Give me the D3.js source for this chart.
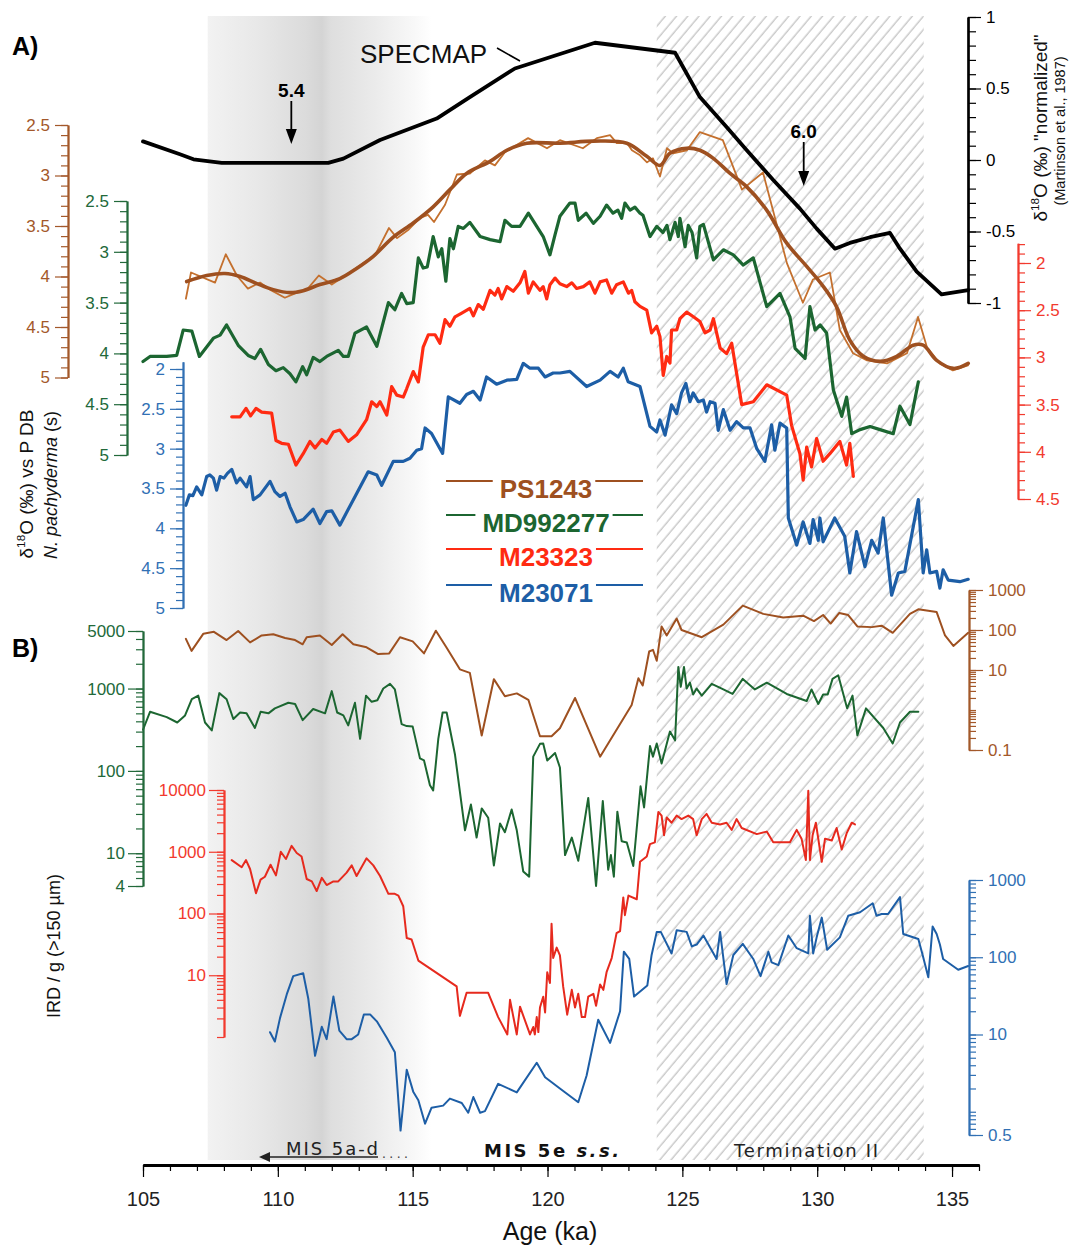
<!DOCTYPE html>
<html>
<head>
<meta charset="utf-8">
<script src="https://cdn.jsdelivr.net/npm/d3@7"></script>
<style>
  body { margin: 0; background: #fff; }
  svg { display: block; }
</style>
</head>
<body>
<script>
// ---------------------------------------------------------------------------
// Data: ages in ka, δ18O in ‰, IRD in grains per gram (>150 µm)
// ---------------------------------------------------------------------------
const specmapD18O = [[105.0,0.13],[106.37,0.04],[106.87,0.005],[107.92,-0.02],[111.87,-0.02],[112.43,0.01],[113.79,0.14],[115.89,0.29],[117.12,0.44],[118.79,0.64],[121.76,0.82],[124.73,0.75],[125.65,0.44],[126.64,0.23],[127.38,0.07],[128.37,-0.14],[129.36,-0.34],[129.98,-0.48],[130.66,-0.62],[131.21,-0.58],[131.96,-0.54],[132.7,-0.51],[133.07,-0.62],[133.69,-0.78],[134.61,-0.94],[135.6,-0.91]];

const ps1243Raw = [[106.59,4.22],[106.78,3.96],[107.67,4.06],[108.07,3.78],[108.48,3.99],[108.89,4.12],[109.34,4.06],[109.71,4.13],[110.26,4.21],[110.71,4.16],[111.08,4.13],[111.52,3.99],[112.0,4.08],[112.56,3.98],[113.04,3.89],[113.6,3.79],[114.12,3.52],[114.42,3.62],[114.83,3.54],[115.27,3.42],[115.57,3.39],[115.79,3.46],[116.2,3.29],[116.64,2.99],[117.12,2.98],[117.68,2.85],[118.05,2.90],[118.42,2.77],[119.28,2.63],[119.98,2.73],[120.46,2.65],[121.31,2.73],[121.83,2.63],[122.32,2.60],[122.57,2.68],[122.95,2.68],[123.13,2.75],[123.43,2.80],[123.69,2.87],[123.91,2.83],[124.17,3.01],[124.43,2.73],[124.65,2.78],[125.17,2.75],[125.65,2.57],[126.5,2.65],[127.21,3.14],[127.99,2.97],[128.88,3.87],[129.47,4.26],[129.84,4.03],[130.47,3.96],[130.84,4.53],[131.33,4.76],[131.85,4.83],[132.59,4.86],[133.33,4.76],[133.74,4.40],[134.07,4.70],[134.55,4.86],[135.03,4.93],[135.59,4.88]];

const ps1243Smooth = [[106.62,4.05],[107.36,3.99],[108.04,3.97],[108.6,4.0],[109.22,4.07],[109.83,4.13],[110.45,4.16],[110.94,4.14],[111.56,4.08],[112.3,4.02],[112.92,3.92],[113.54,3.80],[114.28,3.61],[115.02,3.47],[115.76,3.31],[116.38,3.14],[117.0,2.98],[117.87,2.86],[118.49,2.75],[119.23,2.68],[120.46,2.68],[121.70,2.66],[122.94,2.68],[123.68,2.81],[124.17,2.90],[124.54,2.78],[125.16,2.73],[125.65,2.75],[126.15,2.83],[126.77,2.98],[127.38,3.11],[128.12,3.34],[128.87,3.67],[129.61,3.90],[130.23,4.10],[130.72,4.30],[131.21,4.63],[131.71,4.79],[132.33,4.84],[132.95,4.79],[133.56,4.68],[133.93,4.68],[134.43,4.83],[135.05,4.91],[135.6,4.86]];

const md992277D18O = [[105.0,4.08],[105.26,4.03],[105.88,4.03],[106.25,4.02],[106.49,3.77],[106.81,3.78],[107.09,4.03],[107.61,3.85],[107.86,3.82],[108.10,3.72],[108.53,3.92],[108.9,4.02],[109.15,4.05],[109.36,3.96],[109.65,4.11],[109.93,4.17],[110.2,4.14],[110.45,4.2],[110.67,4.28],[110.92,4.13],[111.07,4.21],[111.31,4.04],[111.56,4.08],[111.81,4.03],[112.24,3.97],[112.43,4.03],[112.61,4.03],[112.86,3.80],[113.29,3.74],[113.67,3.93],[114.1,3.50],[114.34,3.57],[114.59,3.41],[114.78,3.51],[115.02,3.50],[115.21,3.06],[115.39,3.16],[115.54,3.15],[115.76,2.85],[115.95,3.05],[116.08,2.97],[116.23,3.29],[116.38,2.87],[116.51,2.97],[116.69,2.75],[116.88,2.77],[117.12,2.71],[117.5,2.85],[117.87,2.88],[118.24,2.90],[118.42,2.69],[118.67,2.75],[118.98,2.75],[119.29,2.62],[119.6,2.75],[119.84,2.85],[120.09,3.03],[120.28,2.83],[120.46,2.65],[120.83,2.52],[121.02,2.52],[121.14,2.69],[121.43,2.62],[121.7,2.72],[121.95,2.65],[122.19,2.54],[122.43,2.62],[122.61,2.59],[122.75,2.67],[122.87,2.52],[123.06,2.59],[123.24,2.56],[123.43,2.62],[123.54,2.64],[123.8,2.85],[124.05,2.75],[124.28,2.81],[124.43,2.74],[124.54,2.88],[124.73,2.71],[124.85,2.85],[124.91,2.67],[125.1,2.95],[125.22,2.74],[125.36,2.81],[125.53,3.06],[125.65,2.75],[125.78,2.73],[126.15,3.08],[126.52,2.98],[126.89,3.03],[127.26,3.13],[127.63,3.06],[128.13,3.54],[128.62,3.41],[128.99,3.64],[129.18,3.95],[129.55,4.05],[129.73,3.54],[129.92,3.77],[130.11,3.72],[130.35,3.80],[130.6,4.36],[130.91,4.62],[131.09,4.43],[131.28,4.79],[131.59,4.75],[131.96,4.72],[132.33,4.75],[132.82,4.79],[133.07,4.52],[133.44,4.70],[133.75,4.28]];

const m23323D18O = [[108.29,3.63],[108.6,3.63],[108.82,3.54],[108.99,3.62],[109.19,3.54],[109.4,3.58],[109.77,3.59],[109.93,3.88],[110.14,3.91],[110.39,3.92],[110.67,4.14],[110.94,4.02],[111.19,3.89],[111.38,3.96],[111.63,3.87],[111.81,3.91],[112.06,3.79],[112.3,3.77],[112.61,3.89],[112.92,3.82],[113.29,3.66],[113.48,3.47],[113.67,3.52],[113.79,3.47],[114.04,3.61],[114.22,3.31],[114.41,3.40],[114.65,3.42],[114.78,3.33],[115.02,3.15],[115.21,3.26],[115.39,2.89],[115.58,2.76],[115.83,2.76],[116.01,2.85],[116.2,2.60],[116.38,2.67],[116.57,2.57],[116.82,2.53],[117.12,2.48],[117.25,2.56],[117.43,2.44],[117.62,2.49],[117.87,2.29],[118.05,2.34],[118.17,2.27],[118.3,2.38],[118.49,2.25],[118.73,2.30],[118.98,2.21],[119.16,2.09],[119.29,2.32],[119.47,2.20],[119.72,2.29],[119.84,2.25],[119.97,2.38],[120.09,2.23],[120.28,2.16],[120.46,2.22],[120.71,2.25],[120.9,2.21],[121.08,2.27],[121.33,2.25],[121.57,2.20],[121.76,2.32],[121.95,2.20],[122.19,2.18],[122.38,2.32],[122.56,2.23],[122.81,2.20],[123.0,2.32],[123.12,2.29],[123.24,2.41],[123.43,2.46],[123.68,2.50],[123.86,2.74],[124.05,2.67],[124.17,2.78],[124.29,3.19],[124.42,2.99],[124.54,3.06],[124.6,2.71],[124.79,2.71],[124.91,2.59],[125.16,2.52],[125.41,2.57],[125.65,2.62],[125.84,2.74],[126.03,2.71],[126.15,2.59],[126.27,2.74],[126.4,2.90],[126.64,2.96],[126.83,2.85],[127.2,3.50],[127.63,3.47],[128.13,3.29],[128.87,3.40],[129.05,3.72],[129.36,4.02],[129.48,4.30],[129.61,3.95],[129.79,4.16],[129.98,3.86],[130.22,4.10],[130.47,4.02],[130.84,3.89],[131.09,4.14],[131.21,3.91],[131.34,4.26]];

const m23071D18O = [[106.59,3.71],[106.72,3.58],[106.85,3.59],[106.99,3.48],[107.18,3.58],[107.36,3.35],[107.48,3.33],[107.61,3.37],[107.73,3.52],[107.86,3.35],[108.0,3.37],[108.13,3.31],[108.29,3.26],[108.47,3.43],[108.6,3.37],[108.84,3.48],[108.97,3.35],[109.09,3.64],[109.34,3.58],[109.71,3.41],[109.89,3.54],[110.08,3.60],[110.27,3.56],[110.45,3.73],[110.7,3.92],[110.94,3.89],[111.31,3.76],[111.56,3.94],[111.81,3.79],[112.0,3.78],[112.3,3.96],[112.8,3.64],[113.35,3.29],[113.67,3.33],[113.85,3.46],[114.28,3.16],[114.65,3.16],[114.9,3.12],[115.15,3.02],[115.33,3.00],[115.46,2.74],[115.7,2.81],[116.11,3.06],[116.32,2.35],[116.75,2.43],[117.0,2.32],[117.25,2.28],[117.5,2.39],[117.74,2.10],[118.11,2.19],[118.49,2.14],[118.86,2.13],[119.1,1.93],[119.35,1.99],[119.66,1.99],[119.91,2.10],[120.21,2.05],[120.46,2.05],[120.83,2.03],[121.45,2.22],[121.95,2.14],[122.32,2.03],[122.62,2.10],[122.81,1.99],[122.99,2.16],[123.43,2.22],[123.8,2.72],[124.05,2.79],[124.17,2.64],[124.36,2.83],[124.6,2.45],[124.79,2.56],[124.97,2.30],[125.13,2.18],[125.28,2.41],[125.4,2.30],[125.59,2.41],[125.78,2.39],[125.9,2.54],[126.03,2.41],[126.21,2.43],[126.33,2.77],[126.52,2.51],[126.77,2.77],[127.01,2.66],[127.26,2.74],[127.51,2.74],[127.76,3.00],[128.06,3.16],[128.31,2.70],[128.43,3.02],[128.62,2.68],[128.87,2.74],[128.93,3.87],[129.24,4.21],[129.48,3.92],[129.73,4.19],[129.85,3.89],[130.04,4.15],[130.1,3.87],[130.22,4.17],[130.65,3.87],[131.02,4.10],[131.21,4.56],[131.46,4.04],[131.77,4.48],[132.02,4.15],[132.26,4.31],[132.45,3.87],[132.76,4.84],[133.01,4.56],[133.25,4.54],[133.75,3.64],[133.93,4.56],[134.06,4.27],[134.18,4.56],[134.43,4.54],[134.55,4.75],[134.67,4.52],[134.86,4.65],[135.29,4.67],[135.6,4.64]];

const ps1243IRD = [[106.59,60],[106.8,30],[107.24,81],[107.63,90],[108.1,56],[108.53,94],[108.97,49],[109.4,73],[109.83,78],[110.27,63],[110.64,56],[110.92,44],[111.07,66],[111.56,73],[112.0,42],[112.4,78],[112.8,44],[113.29,37],[113.72,25],[114.13,26],[114.53,66],[115.0,52],[115.42,26],[115.86,96],[116.26,36],[116.75,10.4],[117.12,8.5],[117.56,0.23],[118.01,5.9],[118.42,2.2],[118.86,2.6],[119.29,1.8],[119.72,0.22],[120.15,0.22],[120.46,0.35],[121.02,2.0],[121.95,0.068],[123.12,1.33],[123.37,6.2],[123.53,4.1],[123.77,29],[123.91,32],[124.05,17],[124.23,123],[124.42,73],[124.79,193],[124.97,100],[125.72,66],[126.52,136],[127.24,407],[128.0,253],[128.74,205],[129.48,228],[129.88,167],[130.22,237],[130.5,145],[130.82,267],[131.15,237],[131.49,123],[132.02,118],[132.39,128],[132.8,85],[133.44,253],[133.75,330],[134.43,281],[134.74,73],[135.05,40],[135.6,85]];

const md992277IRD = [[105.0,316],[105.26,522],[105.88,450],[106.27,387],[106.56,472],[106.81,742],[107.05,820],[107.3,387],[107.55,310],[107.83,880],[108.1,742],[108.35,427],[108.6,512],[108.84,500],[109.15,332],[109.36,522],[109.65,500],[109.89,575],[110.39,672],[110.64,650],[110.92,414],[111.31,565],[111.75,500],[112.0,930],[112.2,512],[112.43,472],[112.61,357],[112.86,672],[113.05,245],[113.27,820],[113.48,690],[113.69,720],[113.91,1000],[114.16,1140],[114.34,975],[114.59,370],[114.78,350],[115.0,345],[115.27,142],[115.42,134],[115.64,67],[115.76,58],[115.95,245],[116.11,512],[116.26,512],[116.57,157],[116.94,19],[117.16,39],[117.37,15.5],[117.56,35],[117.8,27],[118.01,7.1],[118.24,23],[118.42,18],[118.67,34],[118.86,19],[119.1,6.0],[119.32,5.2],[119.47,149],[119.72,213],[119.84,215],[119.99,134],[120.28,165],[120.46,110],[120.65,9.5],[120.9,15.5],[121.14,8.1],[121.51,47],[121.8,4.0],[122.05,43],[122.25,6.3],[122.35,9.5],[122.46,5.2],[122.59,32],[122.75,14],[122.94,13.5],[123.18,7.0],[123.45,65],[123.58,36],[123.8,200],[123.91,149],[124.05,215],[124.23,123],[124.54,300],[124.73,235],[124.85,1830],[124.94,1050],[125.06,1830],[125.16,1000],[125.28,1180],[125.4,845],[125.53,1000],[125.72,820],[126.09,1140],[126.52,975],[126.86,860],[127.24,1310],[127.69,975],[128.13,1180],[128.87,860],[129.61,705],[129.79,975],[130.04,650],[130.22,845],[130.39,845],[130.57,1310],[130.78,1450],[131.11,575],[131.31,820],[131.49,270],[131.81,575],[132.45,332],[132.8,215],[133.07,387],[133.44,522],[133.75,522]];

const m23323IRD = [[108.29,733],[108.66,562],[108.82,733],[108.97,526],[109.19,213],[109.36,353],[109.52,394],[109.73,617],[109.93,414],[110.11,1000],[110.3,762],[110.51,1245],[110.7,955],[110.88,837],[111.07,362],[111.26,331],[111.44,231],[111.63,378],[111.81,289],[112.06,331],[112.24,331],[112.55,460],[112.74,601],[112.92,405],[113.29,782],[113.54,601],[113.79,405],[114.1,208],[114.34,208],[114.47,195],[114.65,131],[114.78,40],[114.96,38],[115.21,17.3],[116.63,6.6],[116.75,2.2],[117.0,5.2],[117.8,5.2],[118.17,2.1],[118.51,1.1],[118.61,4.0],[118.86,1.1],[118.98,3.1],[119.35,1.1],[119.47,1.45],[119.53,1.1],[119.6,2.1],[119.66,1.2],[119.72,3.0],[119.84,4.5],[119.91,2.5],[119.99,11.2],[120.09,7.5],[120.15,68],[120.21,19],[120.34,28],[120.46,21],[120.58,6.6],[120.73,2.3],[120.9,5.8],[121.02,3.0],[121.14,5.0],[121.27,2.1],[121.39,2.1],[121.51,4.5],[121.7,5.0],[121.8,3.2],[121.95,7.1],[122.07,5.8],[122.19,11.2],[122.38,19],[122.56,48],[122.69,52],[122.81,182],[122.87,94],[123.0,195],[123.31,170],[123.43,687],[123.68,837],[123.8,1330],[123.98,1420],[124.11,4400],[124.23,3850],[124.32,1850],[124.42,3600],[124.6,2950],[124.79,3850],[124.97,3380],[125.22,3850],[125.4,3380],[125.53,1850],[125.72,3380],[125.9,4100],[126.09,2950],[126.4,2770],[126.64,2950],[126.83,2260],[127.01,3380],[127.2,2420],[127.76,1930],[128.13,2120],[128.37,1420],[128.99,1420],[129.24,2260],[129.42,1630],[129.58,733],[129.67,9700],[129.73,733],[129.83,1850],[129.95,2950],[130.17,687],[130.29,1630],[130.54,1520],[130.72,2420],[130.91,1090],[131.09,1980],[131.28,2950],[131.4,2770]];

const m23071IRD = [[109.71,10.7],[109.89,8.1],[110.08,16.3],[110.33,33],[110.57,57],[110.94,62],[111.13,29],[111.38,5.3],[111.63,12.6],[111.81,8.7],[112.06,31],[112.28,11.2],[112.55,8.7],[112.74,8.7],[112.98,10],[113.19,18.2],[113.42,18.2],[113.67,14.8],[114.04,9.1],[114.34,5.9],[114.55,0.57],[114.78,3.5],[115.02,1.82],[115.21,1.41],[115.46,0.70],[115.7,1.13],[116.13,1.2],[116.38,1.48],[116.82,1.3],[117.06,0.97],[117.25,1.55],[117.5,0.97],[117.68,1.02],[118.17,2.3],[118.86,1.78],[119.6,4.3],[119.91,2.8],[120.46,2.0],[121.14,1.33],[121.45,2.95],[121.88,15.5],[122.32,7.8],[122.69,20],[122.83,118],[123.03,95],[123.21,31],[123.7,43],[123.86,107],[124.05,213],[124.2,213],[124.6,112],[124.79,224],[125.16,213],[125.35,138],[125.53,146],[125.78,191],[126.27,95],[126.4,213],[126.64,45],[126.89,107],[127.24,149],[127.63,95],[127.9,57],[128.19,118],[128.31,86],[128.56,79],[128.93,191],[129.24,131],[129.67,112],[129.73,344],[129.85,112],[129.98,181],[130.17,326],[130.37,125],[130.84,181],[131.15,344],[131.59,383],[132.06,500],[132.2,344],[132.39,363],[132.63,363],[133.07,600],[133.19,200],[133.75,172],[133.91,107],[134.12,55],[134.28,250],[134.43,200],[134.55,146],[134.67,95],[135.23,69],[135.6,77]];

// Shaded intervals (ka)
const mis5adBand = [107.4, 115.7];
const terminationII = [124.05, 133.95];

// Tick values
const ageMajors = [105, 110, 115, 120, 125, 130, 135];
const ageMinors = d3.range(105, 137);
const specmapTicks = [-1, -0.5, 0, 0.5, 1];
const ps1243Ticks = [2.5, 3, 3.5, 4, 4.5, 5];
const md992277Ticks = [2.5, 3, 3.5, 4, 4.5, 5];
const m23323Ticks = [2, 2.5, 3, 3.5, 4, 4.5];
const m23071Ticks = [2, 2.5, 3, 3.5, 4, 4.5, 5];
const ps1243IrdTicks = [0.1, 10, 100, 1000];
const md992277IrdTicks = [4, 10, 100, 1000, 5000];
const m23323IrdTicks = [10, 100, 1000, 10000];
const m23071IrdTicks = [0.5, 10, 100, 1000];

const stageMarkers = [{ label: "5.4", age: 110.5 }, { label: "6.0", age: 129.5 }];
const legendEntries = ["PS1243", "MD992277", "M23323", "M23071"];

// ---------------------------------------------------------------------------
const W = 1069, H = 1248;
const FONT = '"Liberation Sans", Arial, Helvetica, sans-serif';
const WIDE = '"DejaVu Sans", Verdana, sans-serif';
const COL = {
  brown: "#9e5020", brownRaw: "#c4702e", green: "#1c6631", red: "#ff2b12",
  redIrd: "#e62a1e", redAxis: "#f23a2e", blue: "#1d5ea6", black: "#000"
};

const svg = d3.select("body").append("svg")
  .attr("width", W).attr("height", H)
  .style("font-family", FONT);

const x = d3.scaleLinear().domain([105, 136]).range([143, 979]);

// Panel A scales
const ySpec = d3.scaleLinear().domain([-1, 1]).range([303, 17]);
const yPs = d3.scaleLinear().domain([2.5, 5]).range([125, 377.5]);
const yMd = d3.scaleLinear().domain([2.5, 5]).range([201, 455]);
const yM233 = d3.scaleLinear().domain([2, 4.5]).range([263, 499]);
const yM230 = d3.scaleLinear().domain([2, 5]).range([369, 608]);
// Panel B scales (log)
const yPsI = d3.scaleLog().domain([0.1, 1000]).range([750, 590]);
const yMdI = d3.scaleLog().domain([4, 5000]).range([886, 631]);
const yM233I = d3.scaleLog().domain([1, 10000]).range([1037, 790]);
const yM230I = d3.scaleLog().domain([0.5, 1000]).range([1135, 880]);

// ---------------------------------------------------------------------------
// Background intervals
const defs = svg.append("defs");
const grad = defs.append("linearGradient").attr("id", "mis5adShade")
  .attr("x1", 0).attr("x2", 1).attr("y1", 0).attr("y2", 0);
[[0, "#f2f2f2"], [0.22, "#e8e8e8"], [0.44, "#dbdbdb"], [0.51, "#d4d4d4"],
 [0.55, "#dedede"], [0.75, "#ebebeb"], [0.92, "#f8f8f8"], [1, "#ffffff"]]
  .forEach(([o, c]) => grad.append("stop").attr("offset", o).attr("stop-color", c));

const pat = defs.append("pattern").attr("id", "hatch")
  .attr("patternUnits", "userSpaceOnUse").attr("width", 8.6).attr("height", 8.6)
  .attr("patternTransform", "rotate(40)");
pat.append("line").attr("x1", 4).attr("x2", 4).attr("y1", 0).attr("y2", 8.6)
  .attr("stroke", "#b8b8b8").attr("stroke-width", 1.1);

svg.append("rect")
  .attr("x", x(mis5adBand[0])).attr("width", x(mis5adBand[1]) - x(mis5adBand[0]))
  .attr("y", 16).attr("height", 1144).attr("fill", "url(#mis5adShade)");
svg.append("rect")
  .attr("x", x(terminationII[0])).attr("width", x(terminationII[1]) - x(terminationII[0]))
  .attr("y", 16).attr("height", 1144).attr("fill", "url(#hatch)");

// ---------------------------------------------------------------------------
// Curves
function plot(data, yScale, color, width, curve) {
  svg.append("path").datum(data)
    .attr("fill", "none").attr("stroke", color).attr("stroke-width", width)
    .attr("stroke-linejoin", "round").attr("stroke-linecap", "round")
    .attr("d", d3.line().x(d => x(d[0])).y(d => yScale(d[1])).curve(curve || d3.curveLinear));
}

// Panel A
plot(specmapD18O, ySpec, COL.black, 3.8);
plot(ps1243Raw, yPs, COL.brownRaw, 1.8);
plot(ps1243Smooth, yPs, COL.brown, 3.6, d3.curveCatmullRom.alpha(0.5));
plot(md992277D18O, yMd, COL.green, 3.2);
plot(m23323D18O, yM233, COL.red, 3.2);
plot(m23071D18O, yM230, COL.blue, 3.2);

// Panel B
plot(ps1243IRD, yPsI, COL.brown, 2);
plot(md992277IRD, yMdI, COL.green, 2);
plot(m23323IRD, yM233I, COL.redIrd, 2);
plot(m23071IRD, yM230I, COL.blue, 2);

// ---------------------------------------------------------------------------
// Axes
function yAxis(o) {
  const s = o.scale.copy().domain([o.lo, o.hi]).range([o.scale(o.lo), o.scale(o.hi)]);
  const mk = o.side === "left" ? d3.axisLeft : d3.axisRight;
  const gMin = svg.append("g").attr("transform", `translate(${o.at},0)`)
    .call(mk(s).tickValues(o.minors).tickSize(o.minor || 7).tickSizeOuter(0).tickFormat(""));
  const gMaj = svg.append("g").attr("transform", `translate(${o.at},0)`)
    .call(mk(s).tickValues(o.majors).tickSize(o.major || 13).tickSizeOuter(0)
      .tickPadding(o.pad || 5).tickFormat(d => String(d)));
  [gMin, gMaj].forEach(g => {
    g.select(".domain").attr("stroke", o.color).attr("stroke-width", o.sw || 1.8);
    g.selectAll(".tick line").attr("stroke", o.color).attr("stroke-width", o.tw || 1.2);
    g.selectAll(".tick text").attr("fill", o.color).attr("font-size", o.font || 17)
      .attr("font-family", FONT);
  });
}
const tenths = (a, b) => d3.range(Math.round(a * 10), Math.round(b * 10) + 1).map(d => d / 10);
function logMinors(lo, hi) {
  const out = [];
  for (let e = -2; e <= 4; e++) for (let m = 1; m <= 9; m++) {
    const v = +(m * Math.pow(10, e)).toPrecision(3);
    if (v >= lo * 0.999 && v <= hi * 1.001) out.push(v);
  }
  return out;
}

yAxis({ scale: ySpec, side: "right", at: 968, lo: -1, hi: 1, majors: specmapTicks,
        minors: tenths(-1, 1), color: COL.black, major: 13, minor: 8, pad: 5, sw: 2.2 });
yAxis({ scale: yPs, side: "left", at: 68, lo: 2.5, hi: 5, majors: ps1243Ticks,
        minors: tenths(2.5, 5), color: "#a3582a" });
yAxis({ scale: yMd, side: "left", at: 127, lo: 2.5, hi: 5, majors: md992277Ticks,
        minors: tenths(2.5, 5), color: "#22693a" });
yAxis({ scale: yM230, side: "left", at: 183, lo: 1.91, hi: 5, majors: m23071Ticks,
        minors: tenths(2, 5), color: "#3170b4" });
yAxis({ scale: yM233, side: "right", at: 1018, lo: 1.79, hi: 4.5, majors: m23323Ticks,
        minors: tenths(1.8, 4.5), color: COL.redAxis });

yAxis({ scale: yMdI, side: "left", at: 143, lo: 4, hi: 5000, majors: md992277IrdTicks,
        minors: logMinors(4, 5000), color: "#22693a", major: 15, pad: 3 });
yAxis({ scale: yM233I, side: "left", at: 224, lo: 1, hi: 10000, majors: m23323IrdTicks,
        minors: logMinors(1, 10000), color: COL.redAxis, major: 15, pad: 3 });
yAxis({ scale: yPsI, side: "right", at: 969, lo: 0.1, hi: 1000, majors: ps1243IrdTicks,
        minors: logMinors(0.1, 1000), color: "#a3582a", major: 14, pad: 5 });
yAxis({ scale: yM230I, side: "right", at: 969, lo: 0.5, hi: 1000, majors: m23071IrdTicks,
        minors: logMinors(0.5, 1000), color: "#3170b4", major: 14, pad: 5 });

// Age axis
const xMin = svg.append("g").attr("transform", "translate(0,1165)")
  .call(d3.axisBottom(x).tickValues(ageMinors).tickSize(6).tickSizeOuter(0).tickFormat(""));
const xMaj = svg.append("g").attr("transform", "translate(0,1165)")
  .call(d3.axisBottom(x).tickValues(ageMajors).tickSize(12).tickSizeOuter(0).tickPadding(15)
    .tickFormat(d => String(d)));
[xMin, xMaj].forEach(g => {
  g.select(".domain").attr("stroke", "#000").attr("stroke-width", 3);
  g.selectAll(".tick line").attr("stroke", "#000").attr("stroke-width", 1.2);
  g.selectAll(".tick text").attr("fill", "#222").attr("font-size", 20).attr("font-family", FONT);
});
svg.append("text").attr("x", 550).attr("y", 1240).attr("text-anchor", "middle")
  .attr("font-size", 25).attr("fill", "#111").text("Age (ka)");

// ---------------------------------------------------------------------------
// Axis titles
function vtext(px, py, size, parts, opts = {}) {
  const t = svg.append("text").attr("transform", `translate(${px},${py}) rotate(-90)`)
    .attr("text-anchor", "middle").attr("font-size", size).attr("fill", opts.fill || "#111");
  parts.forEach(p => {
    const ts = t.append("tspan").text(p.t);
    if (p.sup) ts.attr("font-size", size * 0.62).attr("dy", -size * 0.42);
    if (p.after) ts.attr("dy", size * 0.42);
    if (p.italic) ts.attr("font-style", "italic");
  });
  return t;
}
vtext(33, 484, 19, [{ t: "δ" }, { t: "18", sup: true }, { t: "O (‰) vs P DB", after: true }]);
vtext(57, 485, 18, [{ t: "N. pachyderma", italic: true }, { t: " (s)" }]);
vtext(60, 946, 18, [{ t: "IRD / g (>150 µm)" }]);
vtext(1047, 128, 19, [{ t: "δ" }, { t: "18", sup: true }, { t: 'O (‰) "normalized"', after: true }]);
vtext(1065, 131, 14.5, [{ t: "(Martinson et al., 1987)" }]);

// Panel letters
svg.append("text").attr("x", 12).attr("y", 55).attr("font-size", 25).attr("font-weight", "bold").text("A)");
svg.append("text").attr("x", 12).attr("y", 657).attr("font-size", 25).attr("font-weight", "bold").text("B)");

// SPECMAP label
svg.append("text").attr("x", 360).attr("y", 63).attr("font-size", 26).attr("fill", "#111").text("SPECMAP");
svg.append("line").attr("x1", 497).attr("y1", 48).attr("x2", 520).attr("y2", 61)
  .attr("stroke", "#000").attr("stroke-width", 1.6);

// Stage markers with arrows
const markerY = { "5.4": { text: 97, tip: 144 }, "6.0": { text: 138, tip: 186 } };
stageMarkers.forEach(m => {
  const cx = x(m.age), p = markerY[m.label];
  svg.append("text").attr("x", cx).attr("y", p.text).attr("text-anchor", "middle")
    .attr("font-size", 19).attr("font-weight", "bold").text(m.label);
  svg.append("line").attr("x1", cx).attr("x2", cx).attr("y1", p.text + 4).attr("y2", p.tip - 12)
    .attr("stroke", "#000").attr("stroke-width", 1.8);
  svg.append("path").attr("d", `M${cx - 5.5},${p.tip - 15} L${cx + 5.5},${p.tip - 15} L${cx},${p.tip} Z`)
    .attr("fill", "#000");
});

// Legend
const legendColors = [COL.brown, COL.green, COL.red, COL.blue];
const legendRows = [481, 515, 549, 585];
legendEntries.forEach((name, i) => {
  const ly = legendRows[i];
  const t = svg.append("text").attr("x", 546).attr("y", ly + 17).attr("text-anchor", "middle")
    .attr("font-size", 26).attr("font-weight", "bold").attr("fill", legendColors[i]).text(name);
  const w = t.node().getComputedTextLength();
  svg.append("line").attr("x1", 446).attr("x2", 546 - w / 2 - 7).attr("y1", ly).attr("y2", ly)
    .attr("stroke", legendColors[i]).attr("stroke-width", 2);
  svg.append("line").attr("x1", 546 + w / 2 + 3).attr("x2", 643).attr("y1", ly).attr("y2", ly)
    .attr("stroke", legendColors[i]).attr("stroke-width", 2);
});

// Interval labels along the age axis
svg.append("text").attr("x", 286).attr("y", 1155).attr("font-size", 18).attr("fill", "#222")
  .attr("font-family", WIDE).attr("textLength", 92).attr("lengthAdjust", "spacing").text("MIS 5a-d");
svg.append("line").attr("x1", 268).attr("x2", 378).attr("y1", 1157).attr("y2", 1157)
  .attr("stroke", "#222").attr("stroke-width", 1.5);
svg.append("path").attr("d", "M259,1157 L270,1152 L270,1162 Z").attr("fill", "#222");
svg.append("text").attr("x", 382).attr("y", 1158).attr("font-size", 14).attr("fill", "#444")
  .attr("textLength", 26).attr("lengthAdjust", "spacing").text("....");
const mis5e = svg.append("text").attr("x", 484).attr("y", 1157).attr("font-size", 18)
  .attr("font-family", WIDE).attr("font-weight", "bold").attr("fill", "#111")
  .attr("textLength", 135).attr("lengthAdjust", "spacing");
mis5e.append("tspan").text("MIS 5e ");
mis5e.append("tspan").attr("font-style", "italic").text("s.s.");
svg.append("text").attr("x", 734).attr("y", 1157).attr("font-size", 18).attr("fill", "#222")
  .attr("font-family", WIDE).attr("textLength", 144).attr("lengthAdjust", "spacing").text("Termination II");
</script>
</body>
</html>
